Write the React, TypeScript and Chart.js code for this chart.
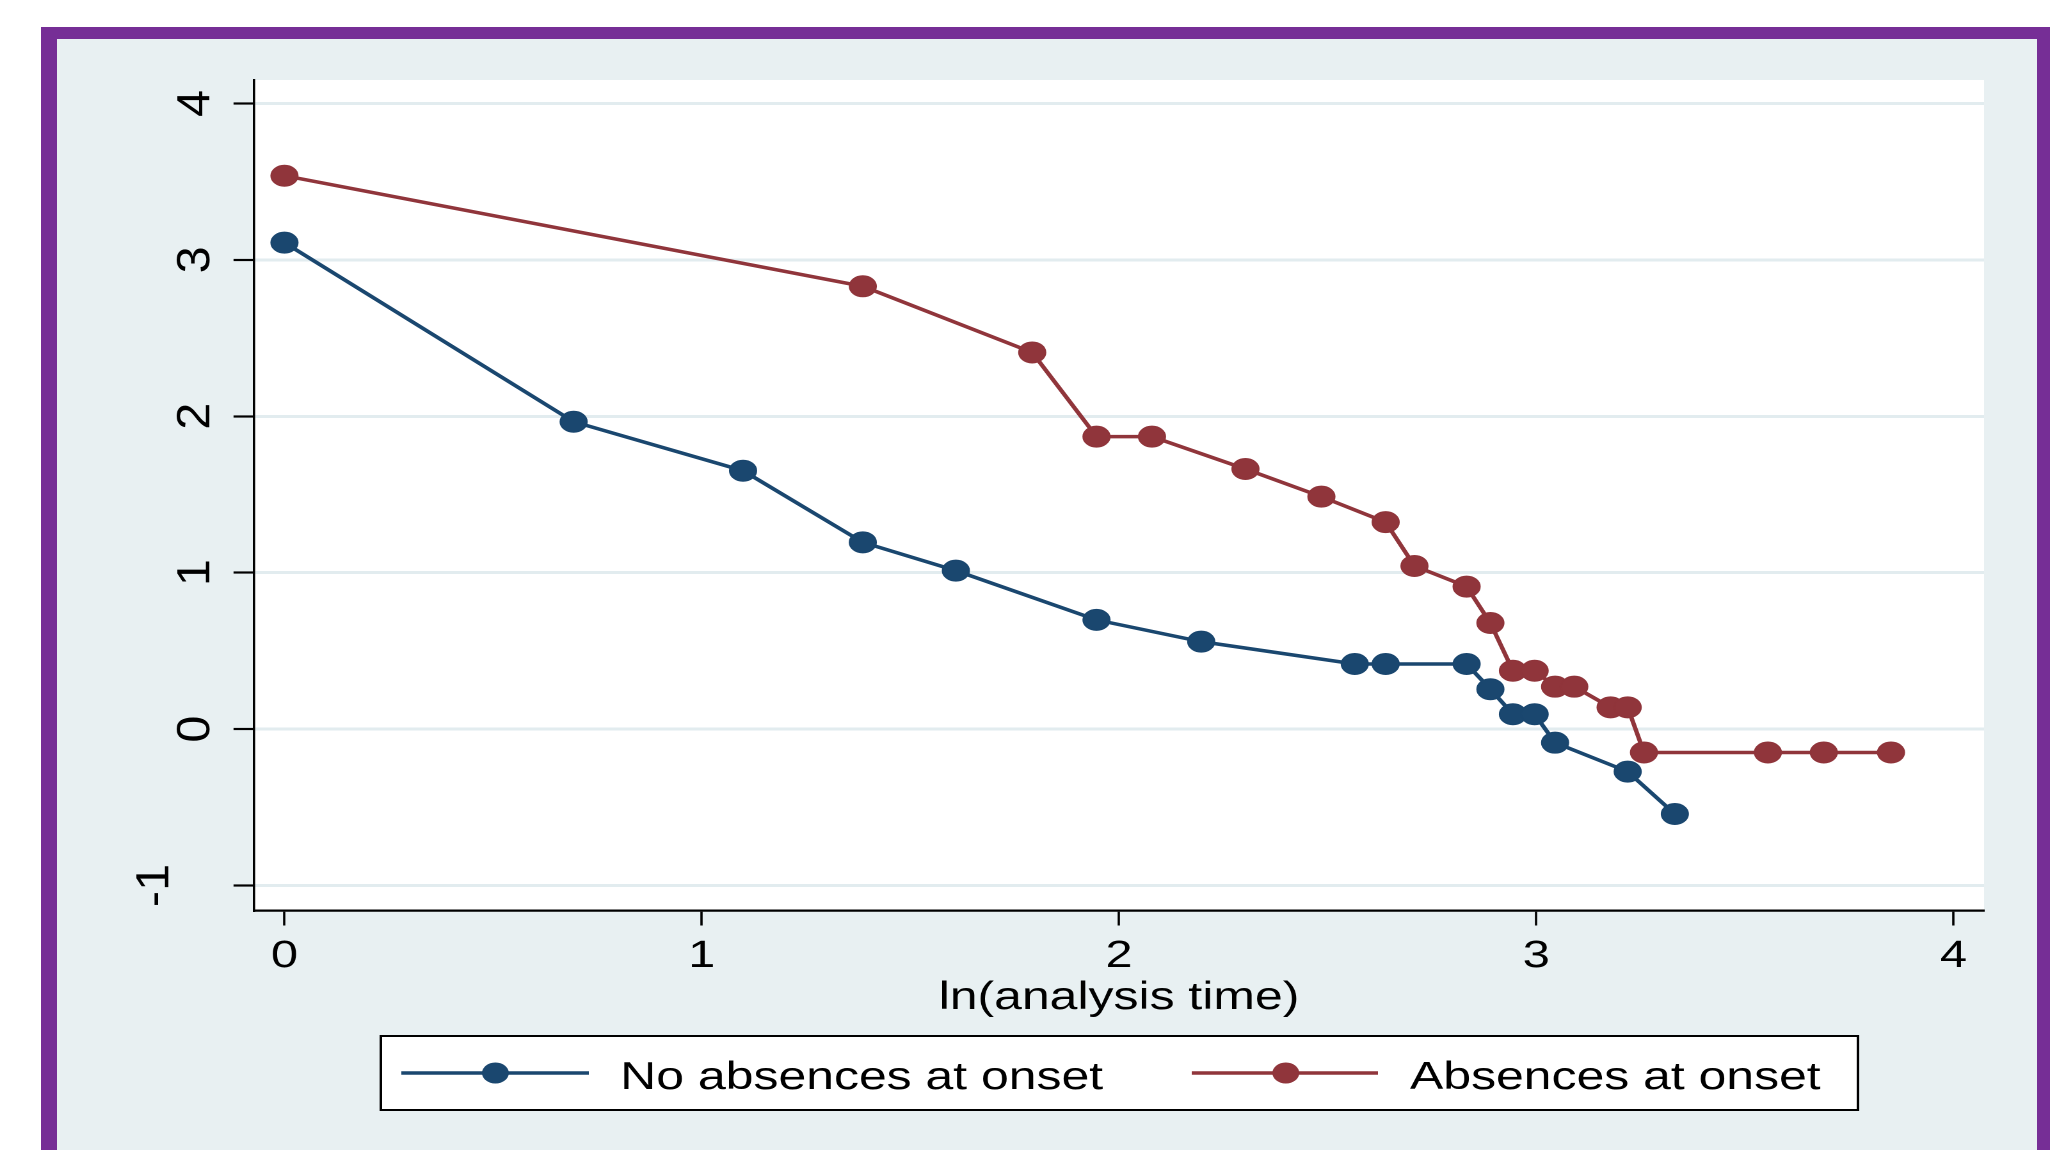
import React, { useEffect, useRef } from "react";
import { Chart, registerables } from "chart.js";

Chart.register(...registerables);

// ---- data ----
const noAbsencesX = [0, 0.693, 1.099, 1.386, 1.609, 1.946, 2.197, 2.565, 2.639, 2.833, 2.89, 2.944, 2.996, 3.045, 3.219, 3.332];
const noAbsencesY = [3.11, 1.965, 1.652, 1.194, 1.013, 0.698, 0.559, 0.416, 0.416, 0.416, 0.255, 0.095, 0.095, -0.087, -0.272, -0.543];

const absencesX = [0, 1.386, 1.792, 1.946, 2.079, 2.303, 2.485, 2.639, 2.708, 2.833, 2.89, 2.944, 2.996, 3.045, 3.091, 3.178, 3.219, 3.258, 3.555, 3.689, 3.85];
const absencesY = [3.538, 2.831, 2.408, 1.87, 1.87, 1.663, 1.486, 1.323, 1.043, 0.911, 0.678, 0.373, 0.373, 0.271, 0.271, 0.139, 0.139, -0.15, -0.15, -0.15, -0.15];

const xTicks = [0, 1, 2, 3, 4];
const yTicks = [-1, 0, 1, 2, 3, 4];
const seriesNames = ["No absences at onset", "Absences at onset"];
const xAxisTitle = "ln(analysis time)";

const BLUE = "#1a476f";
const RED = "#90353b";
const BG = "#e8f0f2";
const GRID = "#e2ecef";
const PURPLE = "#762e96";
const FONT = "'Liberation Sans', Arial, Helvetica, sans-serif";

// logical canvas size; displayed horizontally stretched like the reference
const LOGICAL_W = 1550;
const LOGICAL_H = 1111;
const DISPLAY_W = 1984;

export default function App() {
  const ref = useRef<HTMLCanvasElement | null>(null);

  useEffect(() => {
    const canvas = ref.current;
    if (!canvas) return;

    const decor = {
      id: "stataDecor",
      beforeDraw(chart: any) {
        const { ctx, chartArea } = chart;
        ctx.save();
        ctx.fillStyle = "#ffffff";
        ctx.fillRect(chartArea.left, chartArea.top, chartArea.right - chartArea.left, chartArea.bottom - chartArea.top);
        ctx.restore();
      },
      afterDraw(chart: any) {
        const { ctx } = chart;
        const yScale = chart.scales.y;
        // rotated y tick labels (reading bottom to top)
        ctx.save();
        ctx.fillStyle = "#000";
        ctx.font = `36px ${FONT}`;
        ctx.textAlign = "center";
        ctx.textBaseline = "middle";
        yTicks.forEach((v) => {
          const py = yScale.getPixelForValue(v);
          ctx.save();
          ctx.translate(v < 0 ? 77 : 109, py);
          ctx.rotate(-Math.PI / 2);
          ctx.scale(1.35, 1);
          ctx.fillText(String(v), 0, 0);
          ctx.restore();
        });
        ctx.restore();

        // legend box
        ctx.save();
        const bx = 253, by = 997, bw = 1407 - 253, bh = 1071 - 997;
        ctx.fillStyle = "#ffffff";
        ctx.fillRect(bx, by, bw, bh);
        ctx.strokeStyle = "#000";
        ctx.lineWidth = 2;
        ctx.strokeRect(bx, by, bw, bh);
        const items = [
          { color: BLUE, x1: 269, x2: 415.5, mx: 342.5, tx: 440, label: seriesNames[0] },
          { color: RED, x1: 886.5, x2: 1032, mx: 960, tx: 1057, label: seriesNames[1] },
        ];
        const ly = 1034;
        items.forEach((it) => {
          ctx.strokeStyle = it.color;
          ctx.lineWidth = 3.5;
          ctx.beginPath();
          ctx.moveTo(it.x1, ly);
          ctx.lineTo(it.x2, ly);
          ctx.stroke();
          ctx.fillStyle = it.color;
          ctx.beginPath();
          ctx.arc(it.mx, ly, 10.5, 0, Math.PI * 2);
          ctx.fill();
          ctx.fillStyle = "#000";
          ctx.font = `39px ${FONT}`;
          ctx.textAlign = "left";
          ctx.textBaseline = "alphabetic";
          ctx.fillText(it.label, it.tx, 1050);
        });
        ctx.restore();
      },
    };

    const chart = new Chart(canvas, {
      type: "line",
      data: {
        datasets: [
          {
            label: seriesNames[0],
            data: noAbsencesX.map((x, i) => ({ x, y: noAbsencesY[i] })),
            borderColor: BLUE,
            backgroundColor: BLUE,
            pointBackgroundColor: BLUE,
            pointBorderColor: BLUE,
            pointBorderWidth: 1,
            pointRadius: 10.5,
            borderWidth: 3.5,
            tension: 0,
            fill: false,
            order: 1,
          },
          {
            label: seriesNames[1],
            data: absencesX.map((x, i) => ({ x, y: absencesY[i] })),
            borderColor: RED,
            backgroundColor: RED,
            pointBackgroundColor: RED,
            pointBorderColor: RED,
            pointBorderWidth: 1,
            pointRadius: 10.5,
            borderWidth: 3.5,
            tension: 0,
            fill: false,
            order: 0,
          },
        ],
      },
      options: {
        animation: false,
        responsive: false,
        devicePixelRatio: 2,
        events: [],
        layout: { padding: { top: 41, right: 44.5, left: 0, bottom: 0 } },
        plugins: {
          legend: { display: false },
          tooltip: { enabled: false },
        },
        scales: {
          x: {
            type: "linear",
            min: -0.073,
            max: 4.073,
            afterBuildTicks: (scale: any) => {
              scale.ticks = xTicks.map((v) => ({ value: v }));
            },
            afterFit: (scale: any) => {
              scale.height = 239.5;
            },
            grid: {
              drawOnChartArea: false,
              drawTicks: true,
              tickLength: 15,
              tickColor: "#000",
              tickWidth: 1.8,
            },
            border: { display: true, color: "#000", width: 2.2 },
            ticks: {
              color: "#000",
              font: { family: FONT, size: 38 },
              padding: 8,
              maxRotation: 0,
              minRotation: 0,
              callback: (v: any) => String(v),
            },
            title: {
              display: true,
              text: xAxisTitle,
              color: "#000",
              font: { family: FONT, size: 39 },
              padding: { top: 0, bottom: 128.6 },
            },
          },
          y: {
            type: "linear",
            min: -1.16,
            max: 4.15,
            afterBuildTicks: (scale: any) => {
              scale.ticks = yTicks.map((v) => ({ value: v }));
            },
            afterFit: (scale: any) => {
              scale.width = 153.9;
            },
            grid: {
              drawOnChartArea: true,
              color: GRID,
              lineWidth: 3,
              drawTicks: true,
              tickLength: 16,
              tickColor: "#000",
              tickWidth: 2.2,
            },
            border: { display: true, color: "#000", width: 1.8 },
            ticks: {
              color: "rgba(0,0,0,0)",
              font: { family: FONT, size: 34 },
            },
          },
        },
      },
      plugins: [decor],
    });

    return () => chart.destroy();
  }, []);

  return (
    <div style={{ position: "fixed", left: 0, top: 0, width: 2050, height: 1150, overflow: "hidden", background: "#ffffff" }}>
      <div style={{ position: "absolute", left: 41, top: 27, width: 2100, height: 1200, background: PURPLE }} />
      <div style={{ position: "absolute", left: 57, top: 39, width: 2037 - 57, height: 1200, background: BG }} />
      <canvas
        ref={ref}
        width={LOGICAL_W}
        height={LOGICAL_H}
        style={{ position: "absolute", left: 57, top: 39, width: `${DISPLAY_W}px`, height: `${LOGICAL_H}px` }}
      />
    </div>
  );
}
